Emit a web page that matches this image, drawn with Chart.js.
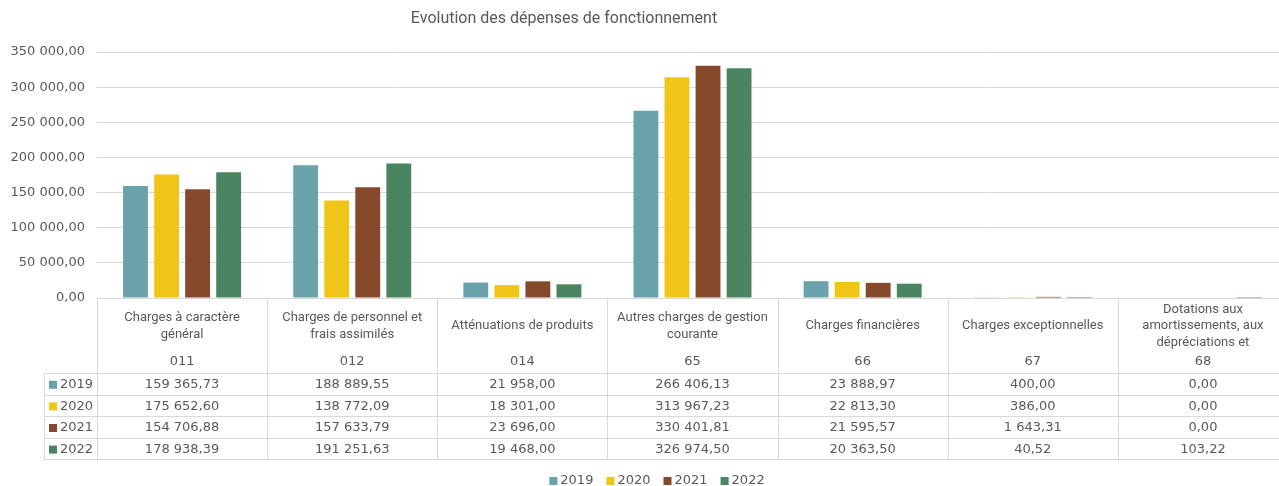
<!DOCTYPE html>
<html>
<head>
<meta charset="utf-8">
<script src="https://cdn.jsdelivr.net/npm/chart.js@4/dist/chart.umd.min.js"></script>
<style>
  html, body { margin: 0; padding: 0; background: #fff; overflow: hidden; }
  #wrap { width: 1290px; height: 486px; }
</style>
</head>
<body>
<div id="wrap"><canvas id="myChart" width="1290" height="486"></canvas></div>
<script>
const chartTitle = "Evolution des dépenses de fonctionnement";
const categories = [
  ["Charges à caractère", "général"],
  ["Charges de personnel et", "frais assimilés"],
  ["Atténuations de produits"],
  ["Autres charges de gestion", "courante"],
  ["Charges financières"],
  ["Charges exceptionnelles"],
  ["Dotations aux", "amortissements, aux", "dépréciations et"],
];
const codes = ["011", "012", "014", "65", "66", "67", "68"];
const years = ["2019", "2020", "2021", "2022"];
const values2019 = [159365.73, 188889.55, 21958.00, 266406.13, 23888.97, 400.00, 0.00];
const values2020 = [175652.60, 138772.09, 18301.00, 313967.23, 22813.30, 386.00, 0.00];
const values2021 = [154706.88, 157633.79, 23696.00, 330401.81, 21595.57, 1643.31, 0.00];
const values2022 = [178938.39, 191251.63, 19468.00, 326974.50, 20363.50, 40.52, 103.22];
const yTicks = [0, 50000, 100000, 150000, 200000, 250000, 300000, 350000];

const colors = ["#6aa2ab", "#f1c418", "#86492c", "#4a8460"];
const textColor = "#595959";
const lineColor = "#d9d9d9";
const fontFamily = "Roboto, 'Liberation Sans', sans-serif";
const numFont = "'DejaVu Sans', Roboto, sans-serif";

function frNumber(v) {
  const parts = v.toFixed(2).split(".");
  const intPart = parts[0].replace(/\B(?=(\d{3})+(?!\d))/g, " ");
  return intPart + "," + parts[1];
}

// draws title, data table and legend
const tablePlugin = {
  id: "dataTable",
  afterDraw(chart) {
    const ctx = chart.ctx;
    const x = chart.scales.x;
    const area = chart.chartArea;
    const n = chart.data.labels.length;
    const colW = (area.right - area.left) / n;
    const top = area.bottom;
    const headBottom = top + 75;
    const rowH = 21.6;
    const tableBottom = headBottom + rowH * years.length;
    const leftCol = 44;

    ctx.save();
    // title
    ctx.fillStyle = textColor;
    ctx.font = "16px " + fontFamily;
    ctx.textAlign = "center";
    ctx.textBaseline = "middle";
    ctx.fillText(chartTitle, 564, 19);

    // grid lines of table
    ctx.strokeStyle = lineColor;
    ctx.lineWidth = 1;
    ctx.beginPath();
    ctx.moveTo(area.left, top + 0.5);
    ctx.lineTo(area.right, top + 0.5);
    for (let r = 0; r <= years.length; r++) {
      const y = Math.round(headBottom + r * rowH) + 0.5;
      ctx.moveTo(leftCol, y);
      ctx.lineTo(area.right, y);
    }
    for (let c = 0; c <= n; c++) {
      const xx = Math.round(area.left + c * colW) + 0.5;
      ctx.moveTo(xx, top);
      ctx.lineTo(xx, tableBottom);
    }
    ctx.moveTo(leftCol + 0.5, headBottom);
    ctx.lineTo(leftCol + 0.5, tableBottom);
    ctx.stroke();

    // header text
    ctx.fillStyle = textColor;
    const lineH = 16.5;
    chart.data.labels.forEach((lines, i) => {
      const cx = x.getPixelForValue(i);
      const y0 = 326 - (lines.length - 1) * lineH / 2;
      ctx.font = "13px " + fontFamily;
      lines.forEach((ln, k) => ctx.fillText(ln, cx, y0 + k * lineH));
      ctx.font = "13px " + numFont;
      ctx.fillText(codes[i], cx, 362);
    });

    // rows
    ctx.font = "13px " + numFont;
    chart.data.datasets.forEach((ds, r) => {
      const cy = headBottom + r * rowH + rowH / 2 + 1;
      ctx.fillStyle = ds.backgroundColor;
      ctx.fillRect(49, cy - 4, 8, 8);
      ctx.fillStyle = textColor;
      ctx.textAlign = "left";
      ctx.fillText(ds.label, 60, cy);
      ctx.textAlign = "center";
      ds.data.forEach((v, i) => {
        ctx.fillText(frNumber(v), x.getPixelForValue(i), cy);
      });
    });

    // legend
    const items = chart.data.datasets.map(ds => ({ label: ds.label, color: ds.backgroundColor, w: ctx.measureText(ds.label).width }));
    const box = 8, gapIn = 3, gapOut = 13;
    let total = 0;
    items.forEach((it, i) => { total += box + gapIn + it.w + (i < items.length - 1 ? gapOut : 0); });
    let lx = 657 - total / 2;
    const ly = 481;
    ctx.textAlign = "left";
    items.forEach(it => {
      ctx.fillStyle = it.color;
      ctx.fillRect(lx, ly - 4, box, box);
      ctx.fillStyle = textColor;
      ctx.fillText(it.label, lx + box + gapIn, ly);
      lx += box + gapIn + it.w + gapOut;
    });
    ctx.restore();
  }
};

const seriesValues = [values2019, values2020, values2021, values2022];

new Chart(document.getElementById("myChart"), {
  type: "bar",
  data: {
    labels: categories,
    datasets: years.map((yr, i) => ({
      label: yr,
      data: seriesValues[i],
      backgroundColor: colors[i],
      categoryPercentage: 0.73,
      barPercentage: 0.8,
    })),
  },
  options: {
    responsive: false,
    animation: false,
    layout: { padding: { top: 52, bottom: 188, right: 2, left: 0 } },
    plugins: {
      legend: { display: false },
      title: { display: false },
      tooltip: { enabled: false },
    },
    scales: {
      x: { display: false },
      y: {
        min: 0,
        max: 350000,
        afterBuildTicks(scale) {
          scale.ticks = yTicks.map(v => ({ value: v }));
        },
        afterFit(scale) {
          scale.width = 97;
        },
        grid: { color: lineColor, lineWidth: 1, drawTicks: false },
        border: { display: false },
        ticks: {
          color: textColor,
          padding: 12,
          font: { family: numFont, size: 13 },
          callback: v => frNumber(v),
        },
      },
    },
  },
  plugins: [tablePlugin],
});
</script>
</body>
</html>
